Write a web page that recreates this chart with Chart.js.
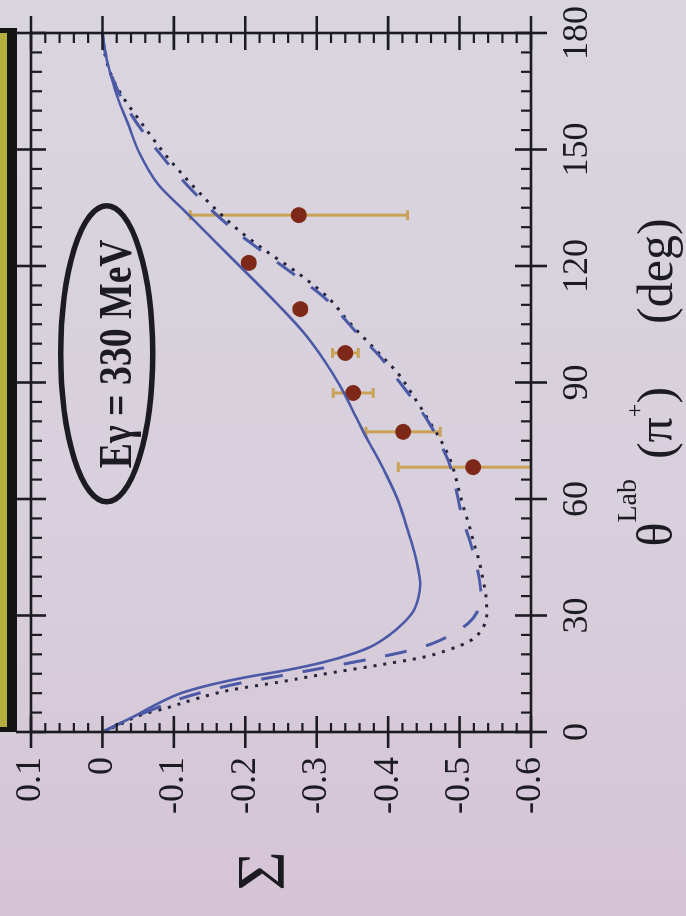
<!DOCTYPE html>
<html>
<head>
<meta charset="utf-8">
<script src="https://cdn.jsdelivr.net/npm/chart.js@4"></script>
<style>
  html, body { margin: 0; padding: 0; width: 686px; height: 916px; overflow: hidden;
    background: linear-gradient(to bottom, #d9d5df 0%, #d8d0dc 55%, #d5c4d6 100%); }
  /* the figure is laid out landscape and turned a quarter turn counter-clockwise */
  #wrap { position: absolute; left: 0; top: 0; width: 916px; height: 686px;
    transform-origin: 0 0; transform: translateY(916px) rotate(-90deg); }
  canvas { display: block; }
</style>
</head>
<body>
<div id="wrap"><canvas id="c" width="916" height="686"></canvas></div>
<script>
// ---- axis ticks ----
const thetaTicks = [0, 30, 60, 90, 120, 150, 180];
const thetaTickLabels = ['0', '30', '60', '90', '120', '150', '180'];
const sigmaTicks = [0.1, 0, -0.1, -0.2, -0.3, -0.4, -0.5, -0.6];
const sigmaTickLabels = ['0.1', '0', '-0.1', '-0.2', '-0.3', '-0.4', '-0.5', '-0.6'];

// ---- model curves: Sigma vs theta_lab(pi+) in degrees ----
const thetaSolid = [0, 2, 4, 6, 8, 10, 12, 14, 16, 18, 20, 22, 25, 28, 31, 35, 38, 42, 48, 54, 60, 66, 70, 75, 80, 89, 95, 103, 110, 116, 122, 127, 134, 141, 149, 157, 163, 169, 175, 180];
const sigmaSolid = [0, -0.022, -0.044, -0.064, -0.085, -0.11, -0.148, -0.198, -0.26, -0.31, -0.348, -0.376, -0.402, -0.421, -0.435, -0.443, -0.445, -0.442, -0.434, -0.424, -0.413, -0.398, -0.387, -0.372, -0.358, -0.333, -0.313, -0.281, -0.246, -0.214, -0.181, -0.154, -0.116, -0.078, -0.052, -0.035, -0.022, -0.012, -0.004, 0];

const thetaDashed = [0, 2, 4, 6, 8, 10, 12.6, 14.5, 16.5, 19, 21, 23, 25.5, 28, 31, 35, 40, 45, 50, 55, 60, 65, 70, 75, 80, 86, 92, 97, 102, 107, 112, 118, 124, 129, 134, 139, 144, 149, 155, 160, 165, 170, 175, 180];
const sigmaDashed = [0, -0.022, -0.046, -0.073, -0.1, -0.135, -0.193, -0.25, -0.309, -0.38, -0.43, -0.465, -0.492, -0.512, -0.525, -0.53, -0.527, -0.521, -0.513, -0.504, -0.498, -0.492, -0.484, -0.471, -0.456, -0.433, -0.408, -0.387, -0.36, -0.336, -0.31, -0.267, -0.222, -0.186, -0.155, -0.128, -0.103, -0.08, -0.055, -0.037, -0.022, -0.011, -0.004, 0];

const thetaDotted = [0, 2, 4.4, 6.2, 8.5, 10.8, 12.9, 15.2, 17.3, 19.3, 21, 23.5, 27, 30.6, 35, 40, 44.3, 48, 52.8, 57, 61.5, 66, 70, 75, 79.6, 86, 92.5, 97, 101.7, 106, 111.3, 118, 124, 129, 134, 139, 144, 148, 152, 156, 160, 164, 168, 172, 176, 180];
const sigmaDotted = [0, -0.025, -0.054, -0.09, -0.13, -0.179, -0.249, -0.319, -0.389, -0.45, -0.482, -0.515, -0.533, -0.538, -0.537, -0.532, -0.527, -0.521, -0.514, -0.507, -0.5, -0.494, -0.487, -0.474, -0.459, -0.437, -0.413, -0.39, -0.365, -0.343, -0.319, -0.275, -0.228, -0.192, -0.162, -0.135, -0.11, -0.091, -0.074, -0.058, -0.042, -0.027, -0.015, -0.007, -0.002, 0];

// ---- measured beam asymmetry ----
const thetaData = [133.1, 120.8, 108.9, 97.6, 87.3, 77.3, 68.2];
const sigmaData = [-0.275, -0.205, -0.277, -0.340, -0.351, -0.421, -0.519];
const sigmaErr = [0.152, 0.008, 0.008, 0.018, 0.028, 0.052, 0.105];

const INK = '#1c1b22';
const SERIF = "'Liberation Serif', 'Times New Roman', serif";
const BLUE = '#4b59a6';

const pts = (xs, ys) => xs.map((x, i) => ({ x, y: ys[i] }));

// frame with crossing major ticks and inward minor ticks on all four sides
const framePlugin = {
  id: 'frame',
  beforeDraw(chart) {
    const { ctx, chartArea: a } = chart;
    ctx.save();
    ctx.fillStyle = '#141414';
    ctx.fillRect(a.left, 0, a.right - a.left + 5, 17);
    ctx.fillStyle = '#b6ad3f';
    ctx.fillRect(a.left + 5, 0, a.right - a.left - 5, 7);
    ctx.restore();
  },
  afterDatasetsDraw(chart) {
    const { ctx, chartArea: a, scales: { x, y } } = chart;
    ctx.save();
    ctx.strokeStyle = INK;
    ctx.lineCap = 'butt';
    ctx.lineWidth = 2.6;
    ctx.strokeRect(a.left, a.top, a.right - a.left, a.bottom - a.top);
    const line = (x1, y1, x2, y2, w) => {
      ctx.lineWidth = w; ctx.beginPath(); ctx.moveTo(x1, y1); ctx.lineTo(x2, y2); ctx.stroke();
    };
    for (let t = 0; t <= 180; t += 5) {
      const px = x.getPixelForValue(t);
      if (t % 30 === 0) {
        line(px, a.bottom - 16, px, a.bottom + 16, 2.6);
        line(px, a.top - 15, px, a.top + 15, 2.6);
      } else {
        line(px, a.bottom - 10, px, a.bottom, 2.2);
        line(px, a.top, px, a.top + 11, 2.2);
      }
    }
    for (let k = -30; k <= 5; k++) {
      const py = y.getPixelForValue(k * 0.02);
      if (k % 5 === 0) {
        line(a.left - 16, py, a.left + 16, py, 2.6);
        line(a.right - 17, py, a.right + 17, py, 2.6);
      } else {
        line(a.left, py, a.left + 9, py, 2.2);
        line(a.right - 10, py, a.right, py, 2.2);
      }
    }
    ctx.restore();
  }
};

// horizontal error bars on the data points (along the Sigma axis)
const errorBarPlugin = {
  id: 'errorBars',
  beforeDatasetsDraw(chart) {
    const { ctx, chartArea: a, scales: { x, y } } = chart;
    ctx.save();
    ctx.beginPath();
    ctx.rect(a.left, a.top, a.right - a.left, a.bottom - a.top);
    ctx.clip();
    ctx.strokeStyle = '#c9a257';
    ctx.lineWidth = 3;
    thetaData.forEach((t, i) => {
      const px = x.getPixelForValue(t);
      const y1 = y.getPixelForValue(sigmaData[i] + sigmaErr[i]);
      const y2 = y.getPixelForValue(sigmaData[i] - sigmaErr[i]);
      ctx.beginPath();
      ctx.moveTo(px, y1); ctx.lineTo(px, y2);
      ctx.moveTo(px - 5, y1); ctx.lineTo(px + 5, y1);
      ctx.moveTo(px - 5, y2); ctx.lineTo(px + 5, y2);
      ctx.stroke();
    });
    ctx.restore();
  }
};

// axis titles and the beam-energy label
const labelsPlugin = {
  id: 'labels',
  afterDraw(chart) {
    const { ctx, chartArea: a, scales: { x, y } } = chart;
    ctx.save();
    ctx.fillStyle = INK;
    ctx.strokeStyle = INK;

    // Sigma
    ctx.font = `68px ${SERIF}`;
    ctx.textAlign = 'center';
    ctx.textBaseline = 'alphabetic';
    ctx.fillText('Σ', 45, 283);

    // theta^Lab (pi+)   (deg)
    const base = 672;
    const big = `50px ${SERIF}`, sup = `28px ${SERIF}`, sup2 = `24px ${SERIF}`;
    const parts = [
      { t: 'θ', f: big, dy: 0 },
      { t: 'Lab', f: sup, dy: -36 },
      { gap: 20 },
      { t: '(π', f: big, dy: 0 },
      { t: '+', f: sup2, dy: -30 },
      { t: ')', f: big, dy: 0 },
      { gap: 63 },
      { t: '(deg)', f: big, dy: 0 }
    ];
    let total = 0;
    parts.forEach(p => {
      if (p.gap) { total += p.gap; return; }
      ctx.font = p.f; p.w = ctx.measureText(p.t).width; total += p.w;
    });
    let cx = (a.left + a.right) / 2 - total / 2;
    ctx.textAlign = 'left';
    parts.forEach(p => {
      if (p.gap) { cx += p.gap; return; }
      ctx.font = p.f; ctx.fillText(p.t, cx, base + p.dy); cx += p.w;
    });

    // E_gamma = 330 MeV in an ellipse
    const ex = x.getPixelForValue(97.4), ey = y.getPixelForValue(-0.006);
    ctx.lineWidth = 5.5;
    ctx.beginPath();
    ctx.ellipse(ex, ey, 148, 46, 0, 0, Math.PI * 2);
    ctx.stroke();
    ctx.font = `bold 46px ${SERIF}`;
    ctx.textAlign = 'center';
    ctx.translate(ex, ey + 24);
    ctx.scale(0.82, 1);
    ctx.fillText('Eγ = 330 MeV', 0, 0);
    ctx.restore();
  }
};

const tickFont = { family: SERIF, size: 36 };

new Chart(document.getElementById('c'), {
  type: 'scatter',
  data: {
    datasets: [
      { label: 'solid', data: pts(thetaSolid, sigmaSolid), showLine: true, borderColor: BLUE,
        borderWidth: 2.6, pointRadius: 0, cubicInterpolationMode: 'monotone' },
      { label: 'dashed', data: pts(thetaDashed, sigmaDashed), showLine: true, borderColor: BLUE,
        borderWidth: 3, borderDash: [22, 20], pointRadius: 0, cubicInterpolationMode: 'monotone' },
      { label: 'dotted', data: pts(thetaDotted, sigmaDotted), showLine: true, borderColor: '#24243c',
        borderWidth: 3, borderDash: [3, 7], pointRadius: 0, cubicInterpolationMode: 'monotone' },
      { label: 'data', data: pts(thetaData, sigmaData), showLine: false, pointRadius: 8,
        pointBackgroundColor: '#7d2818', pointBorderWidth: 0, clip: false }
    ]
  },
  options: {
    responsive: false,
    animation: false,
    devicePixelRatio: 1,
    layout: { padding: { left: 0, top: 31, right: 33, bottom: 0 } },
    plugins: { legend: { display: false }, tooltip: { enabled: false } },
    scales: {
      x: {
        type: 'linear', position: 'bottom', min: 0, max: 180,
        afterBuildTicks: s => { s.ticks = thetaTicks.map(v => ({ value: v })); },
        afterFit: s => { s.height = 155; s.paddingLeft = 0; s.paddingRight = 0; },
        grid: { display: false, drawTicks: false },
        border: { display: false },
        ticks: { autoSkip: false, maxRotation: 0, minRotation: 0, padding: 25, color: INK, font: tickFont,
          callback: (v, i) => thetaTickLabels[i] }
      },
      y: {
        type: 'linear', position: 'left', min: -0.6, max: 0.1,
        afterBuildTicks: s => { s.ticks = sigmaTicks.map(v => ({ value: v })); },
        afterFit: s => { s.width = 184; s.paddingTop = 0; s.paddingBottom = 0; },
        grid: { display: false, drawTicks: false },
        border: { display: false },
        ticks: { autoSkip: false, padding: 25, color: INK, font: tickFont,
          callback: (v, i) => sigmaTickLabels[i] }
      }
    }
  },
  plugins: [framePlugin, errorBarPlugin, labelsPlugin]
});
</script>
</body>
</html>
